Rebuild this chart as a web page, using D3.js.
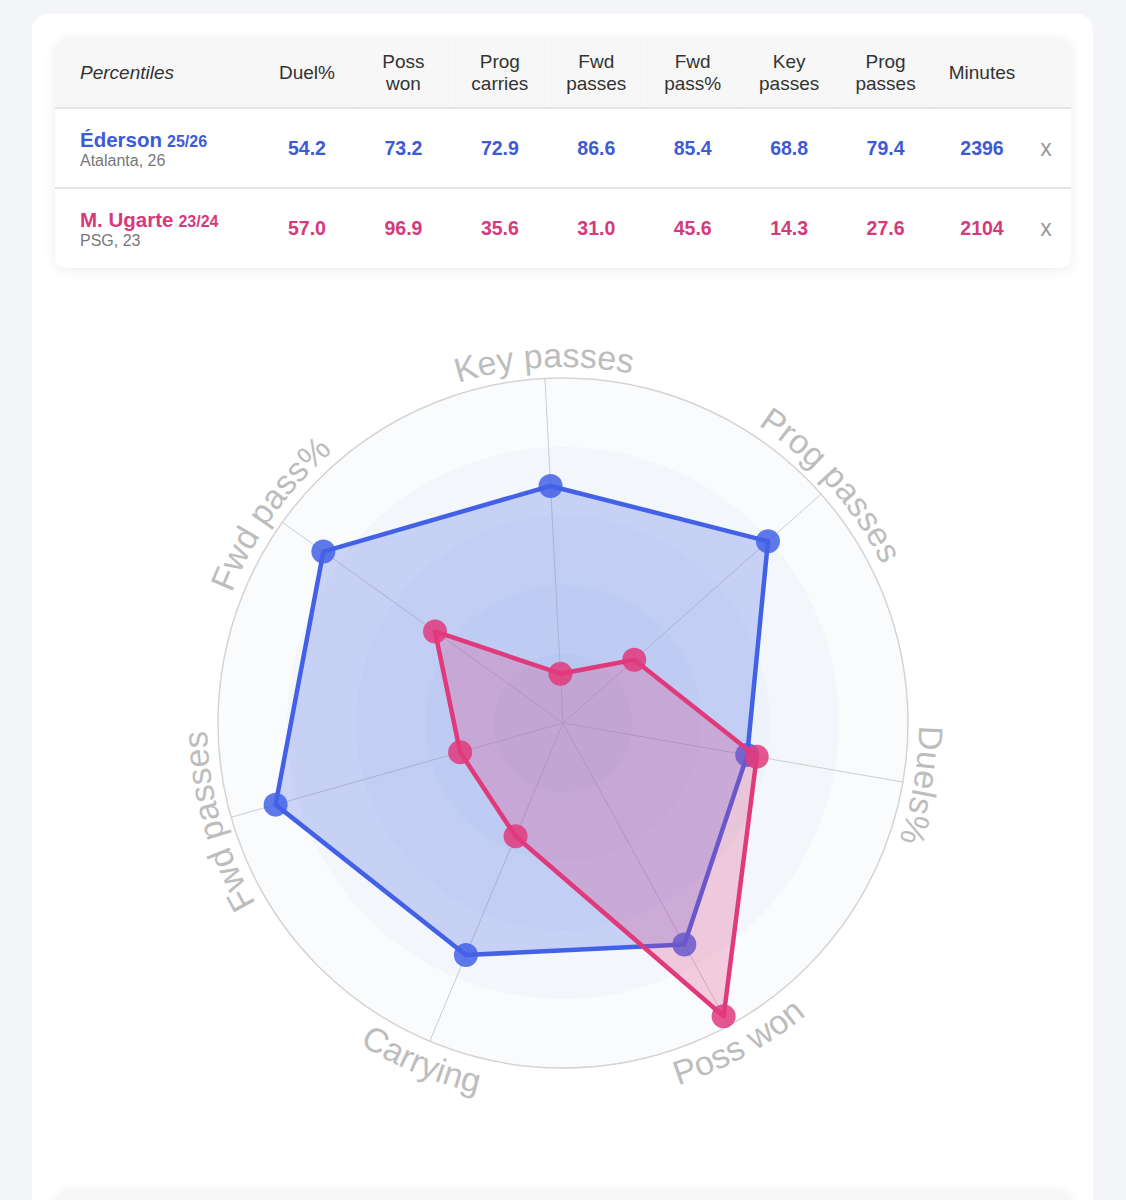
<!DOCTYPE html>
<html>
<head>
<meta charset="utf-8">
<script src="https://cdn.jsdelivr.net/npm/d3@7"></script>
<style>
  body { margin: 0; background: #f4f5f9; }
  svg { display: block; font-family: "Liberation Sans", Arial, Helvetica, sans-serif; }
</style>
</head>
<body>
<svg id="chart"></svg>
<script>
// ---- data ----
const columnHeaders = [["Duel%"], ["Poss", "won"], ["Prog", "carries"], ["Fwd", "passes"],
                       ["Fwd", "pass%"], ["Key", "passes"], ["Prog", "passes"], ["Minutes"]];
const playerNames = ["Éderson", "M. Ugarte"];
const playerSeasons = ["25/26", "23/24"];
const playerClubs = ["Atalanta, 26", "PSG, 23"];
const edersonValues = [54.2, 73.2, 72.9, 86.6, 85.4, 68.8, 79.4];
const ugarteValues = [57.0, 96.9, 35.6, 31.0, 45.6, 14.3, 27.6];
const playerMinutes = [2396, 2104];

// radar axes, clockwise from the top, and which table column feeds each one
const radarLabels = ["Key passes", "Prog passes", "Duels%", "Poss won", "Carrying", "Fwd passes", "Fwd pass%"];
const radarColumns = [5, 6, 0, 1, 2, 3, 4];
const ringLevels = [20, 40, 60, 80, 100];

const playerColors = ["#4361e6", "#e03a7c"];
const textColors = ["#3d5ad7", "#d63a7a"];

const width = 1126, height = 1200;
const svg = d3.select("#chart")
    .attr("width", width)
    .attr("height", height)
    .attr("viewBox", `0 0 ${width} ${height}`);

const defs = svg.append("defs");
defs.append("filter")
    .attr("id", "shadow")
    .attr("x", "-5%").attr("y", "-20%").attr("width", "110%").attr("height", "140%")
    .append("feDropShadow")
    .attr("dx", 0).attr("dy", 2).attr("stdDeviation", 6)
    .attr("flood-color", "#000").attr("flood-opacity", 0.07);

// page + card
svg.append("rect").attr("width", width).attr("height", height).attr("fill", "#f4f5f9");
svg.append("rect")
    .attr("x", 32).attr("y", 14).attr("width", 1061).attr("height", 1260)
    .attr("rx", 16).attr("fill", "#fff");

// ---- table ----
const table = { x: 55, y: 38, w: 1016, h: 230, headH: 70, rowH: 80 };

defs.append("clipPath").attr("id", "tableClip")
    .append("rect")
    .attr("x", table.x).attr("y", table.y).attr("width", table.w).attr("height", table.h).attr("rx", 12);

svg.append("rect")
    .attr("x", table.x).attr("y", table.y).attr("width", table.w).attr("height", table.h)
    .attr("rx", 12).attr("fill", "#fff").attr("filter", "url(#shadow)");

const tableG = svg.append("g").attr("clip-path", "url(#tableClip)");
tableG.append("rect")
    .attr("x", table.x).attr("y", table.y).attr("width", table.w).attr("height", table.headH)
    .attr("fill", "#f7f7f7");

const colX = d3.scaleLinear().domain([0, columnHeaders.length - 1]).range([307, 982]);
const step = colX(1) - colX(0);

// faint header cell borders
tableG.selectAll("line.cellsep")
    .data(d3.range(columnHeaders.length - 1))
    .join("line")
    .attr("x1", i => colX(i) + step / 2).attr("x2", i => colX(i) + step / 2)
    .attr("y1", table.y).attr("y2", table.y + table.headH)
    .attr("stroke", "#fafafa").attr("stroke-width", 1);

// row separators
tableG.selectAll("line.rowsep")
    .data([table.y + table.headH, table.y + table.headH + table.rowH])
    .join("line")
    .attr("x1", table.x).attr("x2", table.x + table.w)
    .attr("y1", d => d).attr("y2", d => d)
    .attr("stroke", "#e4e4e4").attr("stroke-width", 2);

tableG.append("text")
    .attr("x", 80).attr("y", 79)
    .attr("font-size", 19).attr("font-style", "italic").attr("fill", "#333")
    .text("Percentiles");

const headG = tableG.selectAll("text.head")
    .data(columnHeaders)
    .join("text")
    .attr("text-anchor", "middle")
    .attr("font-size", 19).attr("fill", "#333");
headG.selectAll("tspan")
    .data((d, i) => d.map((t, k) => ({ t, k, n: d.length, col: i })))
    .join("tspan")
    .attr("x", d => colX(d.col))
    .attr("y", d => d.n === 1 ? 79 : (d.k === 0 ? 68 : 90))
    .text(d => d.t);

const fmt = d3.format(".1f");
const playerValues = [edersonValues, ugarteValues];

playerNames.forEach((name, p) => {
    const top = table.y + table.headH + p * table.rowH;
    const nameText = tableG.append("text")
        .attr("x", 80).attr("y", top + 39)
        .attr("fill", textColors[p]).attr("font-weight", "bold");
    nameText.append("tspan").attr("font-size", 20.5).text(name);
    nameText.append("tspan").attr("font-size", 16).attr("dx", 5).text(playerSeasons[p]);

    tableG.append("text")
        .attr("x", 80).attr("y", top + 58)
        .attr("font-size", 16).attr("fill", "#777")
        .text(playerClubs[p]);

    const cells = playerValues[p].map(fmt).concat([String(playerMinutes[p])]);
    tableG.selectAll(`text.val${p}`)
        .data(cells)
        .join("text")
        .attr("x", (d, i) => colX(i)).attr("y", top + 47)
        .attr("text-anchor", "middle")
        .attr("font-size", 19.5).attr("font-weight", "bold")
        .attr("fill", textColors[p])
        .text(d => d);

    tableG.append("text")
        .attr("x", 1046).attr("y", top + 48)
        .attr("text-anchor", "middle")
        .attr("font-size", 23).attr("fill", "#9a9a9a")
        .text("x");
});

// next card peeking at the bottom
svg.append("rect")
    .attr("x", table.x).attr("y", 1190).attr("width", table.w).attr("height", 60)
    .attr("rx", 12).attr("fill", "#f7f7f7").attr("filter", "url(#shadow)");

// ---- radar ----
const cx = 563, cy = 723, R = 345;
const rScale = d3.scaleLinear().domain([0, 100]).range([0, R]);
const angleOffset = -3 * Math.PI / 180;
const aScale = d3.scaleLinear()
    .domain([0, radarLabels.length])
    .range([angleOffset, angleOffset + 2 * Math.PI]);

const radar = svg.append("g").attr("transform", `translate(${cx},${cy})`);

// shaded rings, stacked so the middle gets darker
radar.selectAll("circle.ring")
    .data(ringLevels.slice().reverse())
    .join("circle")
    .attr("r", d => rScale(d))
    .attr("fill", "rgba(90,130,210,0.035)");

radar.append("circle")
    .attr("r", R).attr("fill", "none")
    .attr("stroke", "#d4d4d4").attr("stroke-width", 1.5);

radar.selectAll("line.axis")
    .data(radarLabels)
    .join("line")
    .attr("x2", (d, i) => d3.pointRadial(aScale(i), R)[0])
    .attr("y2", (d, i) => d3.pointRadial(aScale(i), R)[1])
    .attr("stroke", "#cdcdcd").attr("stroke-width", 1);

// curved axis labels; the lower ones run the other way so they stay readable
const span = 0.6;
radarLabels.forEach((label, i) => {
    const a = aScale(i);
    const flip = Math.cos(a) < -0.5;
    const rl = flip ? R + 35 : R + 11;
    const p0 = d3.pointRadial(flip ? a + span : a - span, rl);
    const p1 = d3.pointRadial(flip ? a - span : a + span, rl);
    defs.append("path")
        .attr("id", `label-path-${i}`)
        .attr("d", `M${p0[0]},${p0[1]} A${rl},${rl} 0 0 ${flip ? 0 : 1} ${p1[0]},${p1[1]}`);
    radar.append("text")
        .attr("font-size", 34).attr("fill", "#bdbdbd")
        .append("textPath")
        .attr("href", `#label-path-${i}`)
        .attr("startOffset", "50%")
        .attr("text-anchor", "middle")
        .text(label);
});

const radarLine = d3.lineRadial()
    .angle((d, i) => aScale(i))
    .radius(d => rScale(d))
    .curve(d3.curveLinearClosed);

playerValues.forEach((vals, p) => {
    const radarVals = radarColumns.map(c => vals[c]);
    const g = radar.append("g");
    g.append("path")
        .attr("d", radarLine(radarVals))
        .attr("fill", playerColors[p]).attr("fill-opacity", 0.25)
        .attr("stroke", playerColors[p]).attr("stroke-width", 4.5)
        .attr("stroke-linejoin", "round");
    g.selectAll("circle")
        .data(radarVals)
        .join("circle")
        .attr("cx", (d, i) => d3.pointRadial(aScale(i), rScale(d))[0])
        .attr("cy", (d, i) => d3.pointRadial(aScale(i), rScale(d))[1])
        .attr("r", 12)
        .attr("fill", playerColors[p]).attr("fill-opacity", 0.85);
});
</script>
</body>
</html>
